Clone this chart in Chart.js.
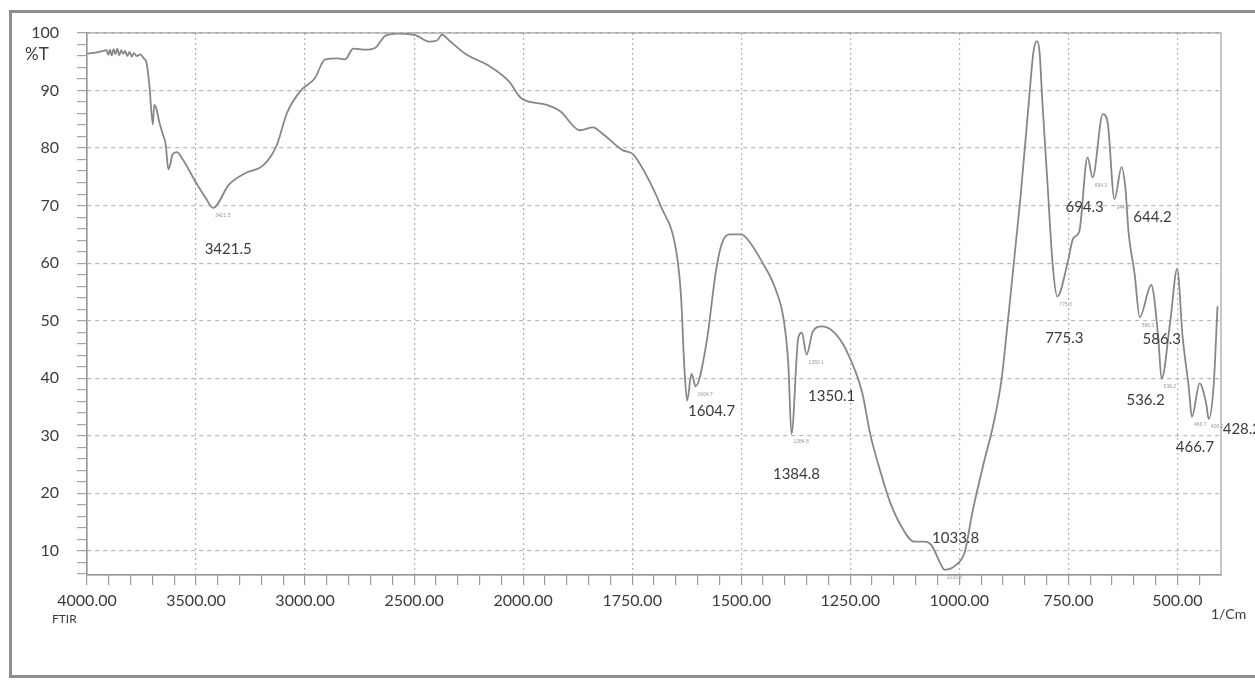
<!DOCTYPE html>
<html>
<head>
<meta charset="utf-8">
<script src="https://cdn.jsdelivr.net/npm/chart.js@4.4.1/dist/chart.umd.min.js"></script>
<style>
  html, body { margin: 0; padding: 0; background: #fff; }
  #wrap { position: relative; width: 1255px; height: 681px; overflow: hidden; }
  #frame { position: absolute; left: 9px; top: 10px; width: 1262px; height: 668px;
           border: 3px solid #8e8e8e; box-sizing: border-box; }
  canvas { position: absolute; left: 0; top: 0; }
</style>
</head>
<body>
<div id="wrap">
  <div id="frame"></div>
  <canvas id="myChart" width="1255" height="681"></canvas>
</div>
<script>
// spectrum (wavenumber in 1/cm, transmittance in %)
const wavenumbers = [4000, 3985, 3960, 3935, 3911, 3902, 3895, 3887, 3878, 3870, 3861, 3852, 3843, 3834, 3825, 3815, 3805, 3795, 3785, 3772, 3755, 3740,
  3727, 3714, 3698, 3692, 3683, 3669, 3652, 3639, 3627, 3618, 3608, 3588, 3562, 3503, 3457, 3421.5, 3350, 3271, 3192, 3131, 3083, 3022,
  2956, 2908, 2849, 2817, 2779, 2723, 2676, 2629, 2569, 2492, 2432, 2395, 2372, 2339, 2262, 2157, 2065, 2010,
  1946, 1915, 1870, 1840, 1818, 1771, 1749, 1722, 1685, 1648, 1638, 1630, 1624, 1614, 1604.7, 1580, 1558, 1545, 1527, 1500, 1482,
  1453, 1423, 1402, 1392, 1384.8, 1369, 1361, 1350.1, 1336, 1316, 1289, 1260, 1223, 1204, 1181, 1159, 1131, 1104, 1079, 1064,
  1042, 1033.8, 1008, 987.5, 970, 945.5, 921, 903, 890, 860, 840, 830, 822, 816, 810, 798, 786, 775.3, 751, 739, 725, 706, 694.3,
  671, 660, 644.2, 628, 619, 612, 598, 586.3, 560, 544, 536.2, 516, 500.5, 488, 474, 466.7, 449, 434, 428.2, 417, 408];
const transmittance = [96.4, 96.5, 96.6, 96.8, 97.0, 96.2, 97.1, 96.1, 97.2, 96.3, 97.3, 96.1, 97.0, 96.4, 96.9, 96.0, 96.7, 95.9, 96.5, 96.0, 96.3, 95.6,
  94.8, 91.0, 84.1, 87.5, 87.0, 84.6, 82.4, 80.6, 76.3, 77.2, 78.9, 79.3, 78.1, 74.2, 71.4, 69.6, 73.6, 75.7, 77.0, 80.4, 86.1, 89.9,
  92.1, 95.4, 95.6, 95.4, 97.3, 97.1, 97.5, 99.6, 99.9, 99.6, 98.5, 98.7, 99.7, 98.7, 96.3, 94.3, 91.6, 88.7,
  87.5, 86.4, 83.1, 83.6, 82.5, 79.6, 79.0, 75.9, 70.0, 61.6, 54.2, 41.3, 36.1, 40.8, 38.6, 46.0, 58.6, 63.3, 65.0, 65.0, 63.8,
  60.3, 55.8, 49.9, 42.4, 30.3, 47.1, 47.9, 44.1, 48.1, 49.0, 48.1, 45.0, 37.6, 30.2, 23.8, 18.5, 14.0, 11.6, 11.6, 11.0,
  7.6, 6.7, 7.5, 9.8, 16.7, 24.8, 32.3, 39.9, 49.0, 71.2, 88.6, 96.7, 98.6, 96.7, 88.6, 74.1, 59.8, 54.2, 60.3, 64.3, 65.5, 78.4, 74.9,
  85.9, 84.5, 71.1, 76.7, 72.9, 65.4, 58.1, 50.6, 56.2, 47.2, 39.9, 50.1, 59.0, 47.2, 38.5, 33.3, 39.1, 35.6, 32.9, 38.6, 52.5];

// labelled bands
const peakWaves = [3421.5, 1604.7, 1384.8, 1350.1, 1033.8, 775.3, 694.3, 644.2, 586.3, 536.2, 466.7, 428.2];
const peakLabels = ['3421.5', '1604.7', '1384.8', '1350.1', '1033.8', '775.3', '694.3', '644.2', '586.3', '536.2', '466.7', '428.2'];

// axis ticks
const xTickLabels = [4000, 3500, 3000, 2500, 2000, 1750, 1500, 1250, 1000, 750, 500];
const yTickLabels = [10, 20, 30, 40, 50, 60, 70, 80, 90, 100];

// label offsets from the band minimum, in px
const labelOffsets = [[15, 41], [16, 25], [5, 40], [25, 42], [11, -32], [7, 42], [-8, 30], [38, 18], [22, 22], [-16, 21], [3, 30], [14, 10]];

// instrument axis: 4000-2000 compressed by 2 compared to 2000-400
const X_END = 400;
function toU(w) { return w >= 2000 ? (4000 - w) / 2 : 1000 + (2000 - w); }
function fromU(u) { return u <= 1000 ? 4000 - u * 2 : 2000 - (u - 1000); }
const U_MAX = toU(X_END);

let xTicks = [];
for (let w = 4000; w >= 2000; w -= 100) xTicks.push(w);
for (let w = 1950; w >= 450; w -= 50) xTicks.push(w);
let yTicks = [];
for (let v = 6; v <= 100; v += 2) yTicks.push(v);

class SplitScale extends Chart.LinearScale {
  getPixelForValue(value) {
    if (value === null || value === undefined || isNaN(value)) return NaN;
    return this.getPixelForDecimal(toU(value) / U_MAX);
  }
  getValueForPixel(pixel) {
    return fromU(this.getDecimalForPixel(pixel) * U_MAX);
  }
  buildTicks() {
    return xTicks.map(v => ({ value: v }));
  }
}
SplitScale.id = 'split';
SplitScale.defaults = Chart.LinearScale.defaults;
Chart.register(SplitScale);

const textColor = '#3b3b3b';

const plotFrame = {
  id: 'plotFrame',
  afterDraw(chart) {
    const a = chart.chartArea, ctx = chart.ctx;
    ctx.save();
    ctx.strokeStyle = '#a0a0a0';
    ctx.lineWidth = 1.2;
    ctx.strokeRect(a.left, a.top, a.right - a.left, a.bottom - a.top);
    ctx.restore();
  }
};

const bandLabels = {
  id: 'bandLabels',
  afterDatasetsDraw(chart) {
    const ctx = chart.ctx;
    const xs = chart.scales.x, ys = chart.scales.y;
    ctx.save();
    for (let i = 0; i < peakWaves.length; i++) {
      const k = wavenumbers.indexOf(peakWaves[i]);
      const px = xs.getPixelForValue(peakWaves[i]);
      const py = ys.getPixelForValue(transmittance[k]);
      // small marker text from the instrument
      ctx.fillStyle = '#9a9a9a';
      ctx.font = '5px "Liberation Sans"';
      ctx.textAlign = 'left';
      ctx.textBaseline = 'middle';
      ctx.fillText(peakLabels[i], px + 2, py + 8);
      // big label
      ctx.fillStyle = textColor;
      ctx.font = '15px Lato';
      ctx.textAlign = i === peakWaves.length - 1 ? 'left' : 'center';
      ctx.fillText(peakLabels[i], px + labelOffsets[i][0], py + labelOffsets[i][1]);
    }
    ctx.fillStyle = textColor;
    ctx.textAlign = 'left';
    ctx.font = '17px Lato';
    ctx.fillText('%T', 25, 55);
    ctx.font = '14px Lato';
    ctx.fillText('1/Cm', 1211, 614);
    ctx.font = '12px Lato';
    ctx.fillText('FTIR', 52, 619);
    ctx.restore();
  }
};

const ctx = document.getElementById('myChart').getContext('2d');
const myChart = new Chart(ctx, {
  type: 'line',
  data: {
    datasets: [{
      data: wavenumbers.map((w, i) => ({ x: w, y: transmittance[i] })),
      borderColor: '#878787',
      borderWidth: 1.8,
      pointRadius: 0,
      cubicInterpolationMode: 'monotone',
      fill: false
    }]
  },
  options: {
    responsive: false,
    devicePixelRatio: 1,
    animation: false,
    layout: { padding: { left: 0, top: 33, right: 34, bottom: 0 } },
    plugins: { legend: { display: false }, tooltip: { enabled: false } },
    scales: {
      x: {
        type: 'split',
        min: X_END,
        max: 4000,
        afterFit(s) { s.height = 106; },
        border: { display: true, color: '#8f8f8f', width: 1.2, dash: [2, 3] },
        grid: {
          color: c => (c.tick && xTickLabels.includes(c.tick.value)) ? '#b3b3b3' : 'rgba(0,0,0,0)',
          tickColor: '#9a9a9a',
          tickLength: 10,
          lineWidth: 1.2
        },
        ticks: {
          autoSkip: false,
          maxRotation: 0,
          padding: 6,
          color: textColor,
          font: { family: 'Lato', size: 16 },
          callback: v => xTickLabels.includes(v) ? v.toFixed(2) : ''
        }
      },
      y: {
        min: 5.8,
        max: 100,
        afterBuildTicks(s) { s.ticks = yTicks.map(v => ({ value: v })); },
        afterFit(s) { s.width = 87; },
        border: { display: true, color: '#8f8f8f', width: 1.2, dash: [4, 4] },
        grid: {
          color: c => (c.tick && yTickLabels.includes(c.tick.value)) ? '#b8b8b8' : 'rgba(0,0,0,0)',
          tickColor: '#a5a5a5',
          tickLength: 10,
          lineWidth: 1.2
        },
        ticks: {
          autoSkip: false,
          padding: 18,
          color: textColor,
          font: { family: 'Lato', size: 16 },
          callback: v => yTickLabels.includes(v) ? String(v) : ''
        }
      }
    }
  },
  plugins: [plotFrame, bandLabels]
});
</script>
</body>
</html>
